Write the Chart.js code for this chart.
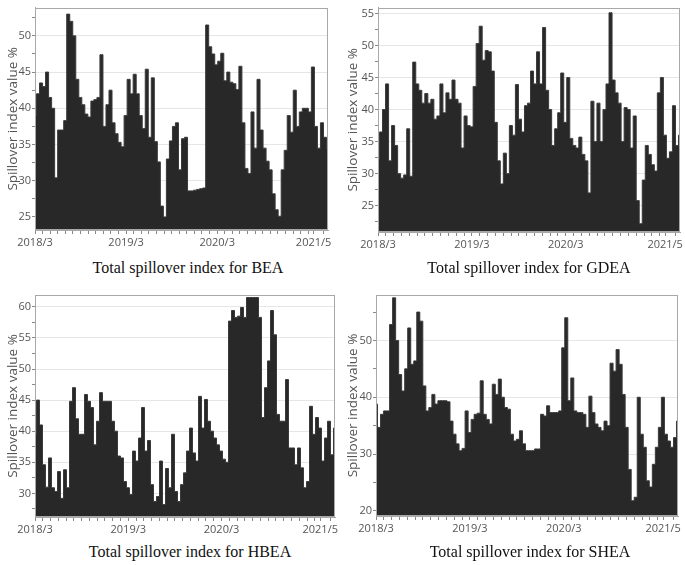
<!DOCTYPE html>
<html>
<head>
<meta charset="utf-8">
<script src="https://cdn.jsdelivr.net/npm/chart.js@4.4.0/dist/chart.umd.min.js"></script>
<style>
body { margin: 0; background: #fff; }
#wrap { position: relative; width: 685px; height: 565px; overflow: hidden; background: #fff; }
canvas { position: absolute; }
.cap { position: absolute; width: 220px; font-family: 'Liberation Serif', 'Times New Roman', serif; font-size: 16px; color: #111; text-align: center; white-space: nowrap; line-height: 20px; }
</style>
</head>
<body>
<div id="wrap">
  <canvas id="c1" width="342" height="252"></canvas>
  <canvas id="c2" width="345" height="252"></canvas>
  <canvas id="c3" width="342" height="252"></canvas>
  <canvas id="c4" width="345" height="252"></canvas>
  <div class="cap" style="left:78px; top:258px;">Total spillover index for BEA</div>
  <div class="cap" style="left:419px; top:258px;">Total spillover index for GDEA</div>
  <div class="cap" style="left:80px; top:542px;">Total spillover index for HBEA</div>
  <div class="cap" style="left:420px; top:542px;">Total spillover index for SHEA</div>
</div>
<script>
// months counted from 2018/3
const tickMonths = [0, 12, 24, 36.7];
const tickLabels = ['2018/3', '2019/3', '2020/3', '2021/5'];
const xFirst = 0, xLast = 38.6;

const beaValues = [39, 42, 43.5, 43, 45, 41.5, 40, 30.4, 37, 37,
  38.3, 53, 52, 50, 44, 41.5, 40.5, 39.2, 38.8, 41,
  41.2, 41.5, 47.4, 37.5, 40.5, 42.5, 38, 36.5, 35.3, 34.7,
  39, 44, 42, 44.7, 42, 39, 37.2, 45.4, 36, 44.2,
  35.4, 32.6, 26.5, 25, 33, 35.5, 37.5, 38, 31.5, 35.8,
  36, 28.6, 28.6, 28.7, 28.8, 28.9, 29, 51.5, 48.5, 47.5,
  46, 46.5, 47.6, 43.8, 45, 43.6, 43.4, 42.6, 45.8, 38,
  31.7, 31, 39.5, 34.5, 44, 37, 34.5, 32.7, 31.5, 28.2,
  26, 25.1, 31.5, 34.2, 39, 36.7, 42.5, 37.5, 39.5, 40,
  40, 39.5, 45.7, 37.5, 34.5, 38, 36, 34.5];

const gdeaValues = [32.4, 36.5, 40, 44, 32, 37.5, 34.4, 30, 29.3, 29.8,
  37, 29.6, 47.4, 44, 43, 41, 42.5, 41, 41.6, 38.5,
  39, 44, 39.5, 42.6, 41.6, 44.6, 41.6, 41, 34, 39,
  37.5, 37.3, 43.6, 50.3, 53, 47.7, 49.2, 49, 46, 38,
  32, 28.4, 33.2, 30, 37.5, 36, 43.9, 38.5, 36.5, 40.6,
  41, 46, 44, 49, 44, 52.8, 43, 40, 34.4, 37,
  39.5, 45.7, 38, 45, 35.5, 34.4, 34, 35.7, 33, 32,
  27, 41.3, 35, 41, 35, 40, 44, 55.1, 44.6, 42.6,
  41, 35, 40.3, 40, 34, 39, 25.8, 22.2, 29, 34.4,
  33, 31.4, 30.4, 42.6, 45, 36, 32.4, 33.4, 40.6, 34.4, 36];

const hbeaValues = [39.5, 45, 41, 34.6, 31, 35.7, 30.9, 30.3, 33.5, 29.2,
  33.8, 30.9, 44.8, 47, 42, 39.5, 39.5, 45.9, 44.8, 43.8,
  37.8, 41.6, 46.2, 44.8, 44.8, 44.8, 41.6, 40, 36, 35.7,
  31.9, 30.9, 29.8, 36.8, 35.2, 38.9, 43.8, 36.8, 38.5, 31.4,
  28.7, 29.5, 35.2, 28.2, 34, 30.9, 39.5, 30.3, 28.7, 31.4,
  33.3, 36.8, 40.5, 36.5, 35.2, 45.6, 40.5, 45.1, 41.6, 40,
  38.9, 37.8, 36.8, 35.5, 35, 57.7, 59.4, 58.3, 58.5, 59.9,
  58.3, 61.5, 61.5, 61.5, 61.5, 58.3, 42.2, 47, 51.3, 59.4,
  55.5, 42.7, 41.6, 41.6, 48.3, 37.3, 37.3, 34.6, 37.3, 34.1,
  30.9, 31.9, 44, 39.5, 42.2, 40.5, 35.2, 38.9, 41.6, 36.2, 40.5];

const sheaValues = [38.8, 34.7, 37, 37.6, 37.6, 52.8, 57.5, 50, 44, 41.1,
  45, 52.2, 45.8, 46.4, 55, 53.4, 42, 37.6, 38.2, 40.5,
  38.8, 39.4, 39.4, 39.4, 39.2, 35.8, 33.5, 31.8, 30.6, 31,
  37.6, 33.8, 36.1, 37, 37.2, 42.9, 37, 36.1, 35.3, 42.3,
  40.5, 43.2, 40, 38.2, 37.9, 33.5, 32.3, 32.6, 34.1, 31.8,
  30.6, 30.6, 30.6, 30.9, 30.9, 37, 36.7, 38.5, 37.3, 37.3,
  37.3, 37.6, 48.7, 54, 39.4, 43.4, 37.6, 37.3, 37.3, 37,
  34.7, 40.2, 37.3, 35.3, 34.7, 34.1, 35.8, 35, 46, 44.6,
  48.4, 45.8, 40.5, 34.7, 27.3, 21.8, 22.4, 40, 33.5, 31.2,
  25.3, 24.2, 28.2, 31.2, 34.7, 40, 33.5, 32.3, 31.2, 32.9, 35.8];

// canvas box [left, top, w, h] and plot area [left, top, right, bottom] in page pixels
const panels = [
  { id: 'c1', values: beaValues, yMin: 23.2, yMax: 53.9, yStep: 2.5, yLabelStep: 5, box: [0, 0, 342, 252], area: [35, 4, 328, 230] },
  { id: 'c2', values: gdeaValues, yMin: 20.9, yMax: 55.9, yStep: 2.5, yLabelStep: 5, box: [340, 0, 345, 252], area: [378, 3, 680, 232] },
  { id: 'c3', values: hbeaValues, yMin: 26.2, yMax: 61.9, yStep: 2.5, yLabelStep: 5, box: [0, 285, 342, 252], area: [35, 295, 335, 517] },
  { id: 'c4', values: sheaValues, yMin: 19.1, yMax: 58, yStep: 5, yLabelStep: 10, box: [340, 285, 345, 252], area: [376, 295, 678, 516] }
];

const tickFont = { family: "'Liberation Sans Narrow', 'Open Sans', sans-serif", size: 11 };
const textColor = '#555';

const frame = {
  id: 'frame',
  afterDatasetsDraw(chart) {
    const a = chart.chartArea, c = chart.ctx;
    c.save();
    c.strokeStyle = '#a8a8a8';
    c.lineWidth = 1;
    c.strokeRect(Math.round(a.left) + 0.5, Math.round(a.top) + 0.5, Math.round(a.right - a.left) - 1, Math.round(a.bottom - a.top) - 1);
    c.restore();
  }
};

panels.forEach(function (p) {
  const cv = document.getElementById(p.id);
  cv.style.left = p.box[0] + 'px';
  cv.style.top = p.box[1] + 'px';

  const pts = p.values.map((v, i) => ({ x: xFirst + i * (xLast - xFirst) / (p.values.length - 1), y: v }));

  new Chart(cv.getContext('2d'), {
    type: 'line',
    data: {
      datasets: [{
        data: pts,
        stepped: 'middle',
        fill: 'start',
        backgroundColor: '#282828',
        borderColor: '#3a3a3a',
        borderWidth: 1,
        pointRadius: 0
      }]
    },
    options: {
      responsive: false,
      animation: false,
      layout: { padding: { top: p.area[1] - p.box[1], right: p.box[0] + p.box[2] - p.area[2], left: 0, bottom: 0 } },
      plugins: { legend: { display: false }, tooltip: { enabled: false } },
      scales: {
        x: {
          type: 'linear',
          min: xFirst,
          max: xLast,
          afterBuildTicks: (axis) => {
            // labelled ticks plus small monthly marks
            const t = tickMonths.map(v => ({ value: v }));
            for (let m = 0; m <= 38; m++) {
              if (!tickMonths.some(v => Math.abs(v - m) < 0.5)) t.push({ value: m });
            }
            t.sort((a, b) => a.value - b.value);
            axis.ticks = t;
          },
          afterFit: (axis) => { axis.height = p.box[1] + p.box[3] - p.area[3]; },
          ticks: {
            autoSkip: false, maxRotation: 0, minRotation: 0, padding: 2,
            color: textColor, font: tickFont,
            callback: (v) => {
              const i = tickMonths.indexOf(v);
              return i >= 0 ? tickLabels[i] : '';
            }
          },
          grid: { drawOnChartArea: false, tickLength: 4, tickColor: '#888' },
          border: { color: '#a8a8a8' }
        },
        y: {
          min: p.yMin,
          max: p.yMax,
          afterBuildTicks: (axis) => {
            const t = [];
            for (let v = Math.ceil(p.yMin / p.yStep) * p.yStep; v <= p.yMax; v += p.yStep) t.push({ value: v });
            axis.ticks = t;
          },
          afterFit: (axis) => { axis.width = p.area[0] - p.box[0]; },
          ticks: {
            autoSkip: false, padding: 1, color: textColor, font: tickFont,
            callback: (v) => (v % p.yLabelStep === 0 ? v : '')
          },
          grid: {
            tickLength: 3,
            tickColor: '#888',
            color: (ctx) => (ctx.tick && ctx.tick.value % p.yLabelStep === 0 ? '#e6e6e6' : 'rgba(0,0,0,0)')
          },
          border: { color: '#a8a8a8' },
          title: {
            display: true,
            text: 'Spillover index value %',
            color: textColor,
            font: { family: "'Open Sans', sans-serif", size: 13.5 },
            padding: { top: 5, bottom: 0 }
          }
        }
      }
    },
    plugins: [frame]
  });
});
</script>
</body>
</html>
